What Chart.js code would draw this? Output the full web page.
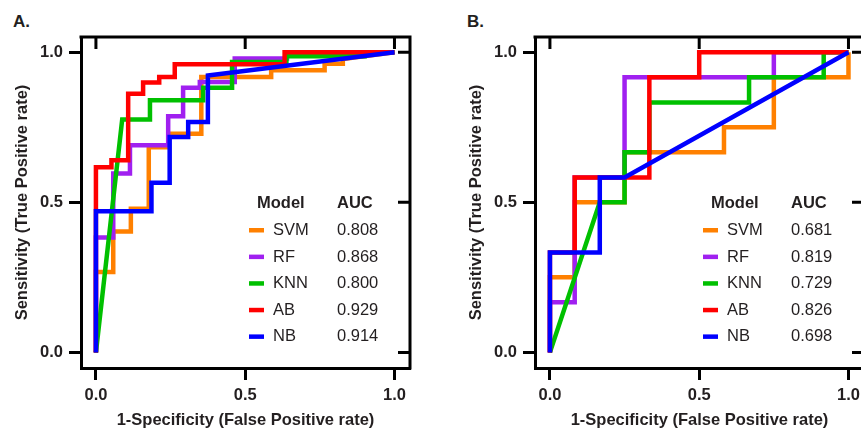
<!DOCTYPE html>
<html lang="en">
<head>
<meta charset="UTF-8">
<title>Curvas ROC</title>
<script src="https://cdn.jsdelivr.net/npm/chart.js"></script>
<style>
html, body { margin: 0; padding: 0; overflow: hidden; background: #fff; width: 861px; height: 430px; }
.painel { position: absolute; top: 0; }
.letra { position: absolute; top: 12px; font: bold 17px "Liberation Sans", Arial, sans-serif; color: #231f20; }
</style>
</head>
<body>
<div class="letra" style="left:13px">A.</div>
<div class="letra" style="left:467px">B.</div>
<canvas id="graficoA" class="painel" width="430" height="430" style="left:0"></canvas>
<canvas id="graficoB" class="painel" width="430" height="430" style="left:454px"></canvas>

<script>
// modelos e AUC
const modelos = ['SVM', 'RF', 'KNN', 'AB', 'NB'];
const cores = ['#FF8000', '#A020F0', '#00C000', '#FF0000', '#0000FF'];
const aucA = ['0.808', '0.868', '0.800', '0.929', '0.914'];
const aucB = ['0.681', '0.819', '0.729', '0.826', '0.698'];
const ticksValores = [0, 0.5, 1];

// painel A - (1-especificidade, sensibilidade)
const fprSvmA = [0, 0, 0.058, 0.058, 0.117, 0.117, 0.177, 0.177, 0.244, 0.244, 0.353, 0.353, 0.587, 0.587, 0.766, 0.766, 0.827, 0.827, 1];
const tprSvmA = [0, 0.268, 0.268, 0.403, 0.403, 0.479, 0.479, 0.684, 0.684, 0.729, 0.729, 0.918, 0.918, 0.94, 0.94, 0.962, 0.962, 0.978, 1];
const fprRfA = [0, 0, 0.058, 0.058, 0.114, 0.114, 0.242, 0.242, 0.292, 0.292, 0.348, 0.348, 0.465, 0.465, 0.64, 0.64, 1];
const tprRfA = [0, 0.383, 0.383, 0.596, 0.596, 0.69, 0.69, 0.787, 0.787, 0.882, 0.882, 0.901, 0.901, 0.979, 0.979, 1, 1];
const fprKnnA = [0, 0.088, 0.181, 0.181, 0.359, 0.359, 0.456, 0.456, 0.638, 0.638, 0.9, 0.9, 1];
const tprKnnA = [0, 0.776, 0.776, 0.84, 0.84, 0.882, 0.882, 0.968, 0.968, 0.987, 0.987, 1, 1];
const fprAbA = [0, 0, 0.052, 0.052, 0.108, 0.108, 0.158, 0.158, 0.212, 0.212, 0.264, 0.264, 0.632, 0.632, 1];
const tprAbA = [0, 0.617, 0.617, 0.64, 0.64, 0.862, 0.862, 0.899, 0.899, 0.918, 0.918, 0.96, 0.96, 1, 1];
const fprNbA = [0, 0, 0.186, 0.186, 0.247, 0.247, 0.309, 0.309, 0.375, 0.375, 1];
const tprNbA = [0, 0.47, 0.47, 0.565, 0.565, 0.718, 0.718, 0.768, 0.768, 0.923, 1];

// painel B
const fprSvmB = [0, 0, 0.083, 0.083, 0.25, 0.25, 0.583, 0.583, 0.75, 0.75, 1, 1];
const tprSvmB = [0, 0.25, 0.25, 0.5, 0.5, 0.667, 0.667, 0.75, 0.75, 0.917, 0.917, 1];
const fprRfB = [0, 0, 0.083, 0.083, 0.25, 0.25, 0.75, 0.75, 1];
const tprRfB = [0, 0.167, 0.167, 0.583, 0.583, 0.917, 0.917, 1, 1];
const fprKnnB = [0, 0.167, 0.25, 0.25, 0.333, 0.333, 0.667, 0.667, 0.917, 0.917, 1];
const tprKnnB = [0, 0.5, 0.5, 0.667, 0.667, 0.833, 0.833, 0.917, 0.917, 1, 1];
const fprAbB = [0, 0, 0.083, 0.083, 0.333, 0.333, 0.5, 0.5, 1];
const tprAbB = [0, 0.333, 0.333, 0.583, 0.583, 0.917, 0.917, 1, 1];
const fprNbB = [0, 0, 0.167, 0.167, 0.25, 1];
const tprNbB = [0, 0.333, 0.333, 0.583, 0.583, 1];

const corTexto = '#231f20';
const fonte = '"Liberation Sans", Arial, sans-serif';

function pontos(fpr, tpr) {
  return fpr.map(function (v, i) { return { x: v, y: tpr[i] }; });
}

// moldura de cima e da direita, com ticks para dentro
const molduraPlugin = {
  id: 'moldura',
  afterDatasetsDraw(chart) {
    const ctx = chart.ctx;
    const a = chart.chartArea;
    const x = chart.scales.x, y = chart.scales.y;
    ctx.save();
    ctx.strokeStyle = '#000';
    ctx.lineWidth = 3;
    ctx.lineCap = 'square';
    ctx.beginPath();
    ctx.moveTo(a.left, a.top);
    ctx.lineTo(a.right, a.top);
    ctx.lineTo(a.right, a.bottom);
    ctx.stroke();
    ctx.lineCap = 'butt';
    ctx.beginPath();
    ticksValores.forEach(function (v) {
      const px = x.getPixelForValue(v);
      ctx.moveTo(px, a.top);
      ctx.lineTo(px, a.top + 12);
      const py = y.getPixelForValue(v);
      ctx.moveTo(a.right, py);
      ctx.lineTo(a.right - 12, py);
    });
    ctx.stroke();
    ctx.restore();
  }
};

// legenda em duas colunas (Model / AUC)
const legendaPlugin = {
  id: 'legendaModelos',
  afterDatasetsDraw(chart, args, opts) {
    const ctx = chart.ctx;
    ctx.save();
    ctx.textBaseline = 'alphabetic';
    ctx.fillStyle = corTexto;
    ctx.font = 'bold 16.5px ' + fonte;
    ctx.fillText('Model', 257, 208);
    ctx.fillText('AUC', 337, 208);
    ctx.font = '16.5px ' + fonte;
    modelos.forEach(function (m, i) {
      const yy = 235 + i * 26.6;
      ctx.fillStyle = cores[i];
      ctx.fillRect(249, yy - 7, 15, 4.5);
      ctx.fillStyle = corTexto;
      ctx.fillText(m, 273, yy);
      ctx.fillText(opts.auc[i], 337, yy);
    });
    ctx.restore();
  }
};

function eixo(titulo, paddingTitulo, larguraFixa, alturaFixa) {
  return {
    type: 'linear',
    min: -0.05,
    max: 1.052,
    afterBuildTicks: function (s) { s.ticks = ticksValores.map(function (v) { return { value: v }; }); },
    afterFit: function (s) {
      if (larguraFixa) s.width = larguraFixa;
      if (alturaFixa) s.height = alturaFixa;
    },
    border: { display: true, color: '#000', width: 3 },
    grid: { display: true, drawOnChartArea: false, drawTicks: true, tickLength: 12, tickWidth: 3, tickColor: '#000' },
    ticks: {
      color: corTexto,
      padding: 6,
      font: { family: fonte, size: 16.5, weight: 'bold' },
      callback: function (v) { return Number(v).toFixed(1); }
    },
    title: {
      display: true,
      text: titulo,
      color: corTexto,
      padding: paddingTitulo,
      font: { family: fonte, size: 16.5, weight: 'bold' }
    }
  };
}

function criarGrafico(id, curvas, auc) {
  const datasets = curvas.map(function (c, i) {
    return {
      label: modelos[i],
      data: pontos(c[0], c[1]),
      borderColor: cores[i],
      backgroundColor: cores[i],
      borderWidth: 4.5,
      pointRadius: 0,
      tension: 0,
      fill: false,
      order: modelos.length - i
    };
  });
  const xEixo = eixo('1-Specificity (False Positive rate)', { top: 0, bottom: 0 }, 0, 62);
  const yEixo = eixo('Sensitivity (True Positive rate)', { top: 13, bottom: 0 }, 81, 0);
  yEixo.min = -0.052;
  yEixo.max = 1.051;
  return new Chart(document.getElementById(id), {
    type: 'line',
    data: { datasets: datasets },
    options: {
      responsive: false,
      animation: false,
      layout: { padding: { top: 37, right: 20, left: 0, bottom: 0 } },
      plugins: { legend: { display: false }, tooltip: { enabled: false }, legendaModelos: { auc: auc } },
      scales: { x: xEixo, y: yEixo }
    },
    plugins: [molduraPlugin, legendaPlugin]
  });
}

criarGrafico('graficoA', [
  [fprSvmA, tprSvmA], [fprRfA, tprRfA], [fprKnnA, tprKnnA], [fprAbA, tprAbA], [fprNbA, tprNbA]
], aucA);

criarGrafico('graficoB', [
  [fprSvmB, tprSvmB], [fprRfB, tprRfB], [fprKnnB, tprKnnB], [fprAbB, tprAbB], [fprNbB, tprNbB]
], aucB);
</script>
</body>
</html>
